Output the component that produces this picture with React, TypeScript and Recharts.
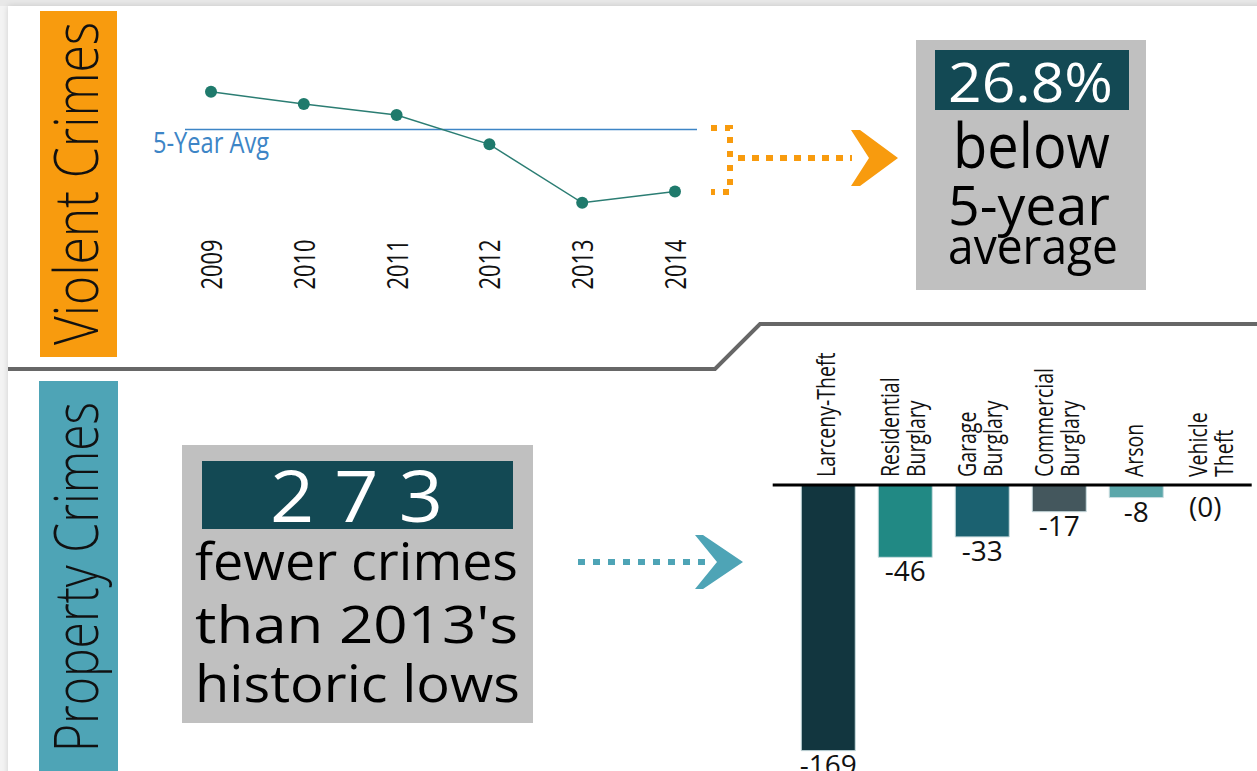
import React from 'react';
import { LineChart, Line, XAxis, YAxis, ReferenceLine, BarChart, Bar, Cell, LabelList } from 'recharts';

// ---- Violent crimes (line chart) ----
const YEARS = ['2009', '2010', '2011', '2012', '2013', '2014'];
const VIOLENT = [116.1, 110.8, 106.1, 93.5, 68.4, 73.2];
const FIVE_YEAR_AVG = 99.9;
const AVG_LABEL = '5-Year Avg';

// ---- Property crimes (bar chart) ----
const CATEGORIES = ['Larceny-Theft', 'Residential Burglary', 'Garage Burglary', 'Commercial Burglary', 'Arson', 'Vehicle Theft'];
const CHANGES = [-169, -46, -33, -17, -8, 0];
const BAR_COLORS = ['#12363f', '#218984', '#1b6170', '#44575d', '#5ba7aa', '#5ba7aa'];

// ---- Call-out texts ----
const VIOLENT_TITLE = 'Violent Crimes';
const PROPERTY_TITLE = 'Property Crimes';
const VIOLENT_STAT = '26.8%';
const VIOLENT_STAT_LINES = ['below', '5-year', 'average'];
const PROPERTY_STAT = '2 7 3';
const PROPERTY_STAT_LINES = ['fewer crimes', "than 2013's", 'historic lows'];

const FONT = "'Open Sans', 'Noto Sans', sans-serif";
const ORANGE = '#f89b0e';
const TEAL = '#4ea4b6';
const DARK = '#134954';
const GRAY = '#c0c0c0';

const lineData = YEARS.map((year, i) => ({ year, value: VIOLENT[i] }));
const barData = CATEGORIES.map((name, i) => ({ name, value: CHANGES[i] }));

const valueText = (v: number) => (v === 0 ? '(0)' : String(v));

const YearTick = (props: any) => {
  const { x, y, payload } = props;
  return (
    <text
      transform={`translate(${x + 11},${y}) rotate(-90) scale(0.73,1)`}
      fontFamily={FONT}
      fontSize={30}
      fill="#111"
      textAnchor="start"
    >
      {payload.value}
    </text>
  );
};

const AvgLabel = (props: any) => {
  const vb = props.viewBox || {};
  return (
    <text
      x={vb.x - 32}
      y={vb.y + 24}
      fontFamily={FONT}
      fontSize={29}
      fill="#3d85c6"
      textLength={116}
      lengthAdjust="spacingAndGlyphs"
    >
      {AVG_LABEL}
    </text>
  );
};

const TICK_MARGIN_TOP = 8;

const CategoryTick = (props: any) => {
  const { x, y, payload, index } = props;
  const lines = String(payload.value).split(' ');
  const n = lines.length;
  const v = CHANGES[index];
  return (
    <g>
      {lines.map((ln, i) => {
        const bx = x + (n === 1 ? 7 : i === 0 ? -6 : 20);
        return (
          <text
            key={i}
            transform={`translate(${bx},${y}) rotate(-90) scale(0.75,1)`}
            fontFamily={FONT}
            fontSize={26}
            fill="#111"
            textAnchor="start"
          >
            {ln}
          </text>
        );
      })}
      {v === 0 && (
        <text x={x - 8} y={y + TICK_MARGIN_TOP + 32} textAnchor="middle" fontFamily={FONT} fontSize={28} fill="#111">
          {valueText(v)}
        </text>
      )}
    </g>
  );
};

const ValueLabel = (props: any) => {
  const { x, y, width, height, value } = props;
  const v = Number(value);
  if (v === 0) return null;
  const bottom = Math.max(y, y + height);
  const cx = x + width / 2;
  return (
    <text x={cx} y={bottom + 24} textAnchor="middle" fontFamily={FONT} fontSize={28} fill="#111">
      {valueText(v)}
    </text>
  );
};

export default function App() {
  return (
    <div style={{ position: 'absolute', left: 0, top: 0, width: 1257, height: 771, overflow: 'hidden', background: '#f3f3f3' }}>
      <div style={{ position: 'absolute', left: 0, top: 0, width: 1257, height: 6, background: '#e8e8e8' }} />
      <div style={{ position: 'absolute', left: 8, top: 6, width: 1300, height: 800, background: '#ffffff', boxShadow: '0 0 6px rgba(0,0,0,0.15)' }} />
      <svg style={{ position: 'absolute', left: 0, top: 0 }} width={1257} height={771}>
        {/* section title boxes */}
        <rect x={40} y={11} width={77} height={346} fill={ORANGE} />
        <text transform="translate(98,345) rotate(-90)" fontFamily={FONT} fontWeight={300} fontSize={60} fill="#111" textLength={323} lengthAdjust="spacingAndGlyphs">{VIOLENT_TITLE}</text>
        <rect x={39} y={381} width={79} height={400} fill={TEAL} />
        <text transform="translate(98,752) rotate(-90)" fontFamily={FONT} fontWeight={300} fontSize={60} fill="#111" textLength={350} lengthAdjust="spacingAndGlyphs">{PROPERTY_TITLE}</text>

        {/* divider */}
        <polyline points="8,369 715,369 760,324 1257,324" fill="none" stroke="#676767" strokeWidth={4} />

        {/* orange bracket + arrow */}
        <path d="M711,128 H730 V192 H711" fill="none" stroke={ORANGE} strokeWidth={6} strokeDasharray="6 8" />
        <line x1={738} y1={158} x2={852} y2={158} stroke={ORANGE} strokeWidth={6} strokeDasharray="7 7" />
        <polygon points="851,130 860,130 898,158 860,186 851,186 869,158" fill={ORANGE} />

        {/* teal arrow */}
        <line x1={578} y1={562} x2={712} y2={562} stroke={TEAL} strokeWidth={6} strokeDasharray="7 8" />
        <polygon points="695,535 703,535 743,562 703,589 695,589 717,562" fill={TEAL} />

        {/* violent stat box */}
        <rect x={916} y={40} width={230} height={250} fill={GRAY} />
        <rect x={935} y={50} width={194} height={60} fill={DARK} />
        <text x={948} y={102} fontFamily={FONT} fontSize={55} fill="#fff" textLength={165} lengthAdjust="spacingAndGlyphs">{VIOLENT_STAT}</text>
        <text x={953} y={168} fontFamily={FONT} fontSize={62} fill="#000" textLength={157} lengthAdjust="spacingAndGlyphs">{VIOLENT_STAT_LINES[0]}</text>
        <text x={948} y={225} fontFamily={FONT} fontSize={55} fill="#000" textLength={162} lengthAdjust="spacingAndGlyphs">{VIOLENT_STAT_LINES[1]}</text>
        <text x={948} y={264} fontFamily={FONT} fontSize={50} fill="#000" textLength={170} lengthAdjust="spacingAndGlyphs">{VIOLENT_STAT_LINES[2]}</text>

        {/* property stat box */}
        <rect x={182} y={445} width={351} height={278} fill={GRAY} />
        <rect x={202} y={461} width={311} height={68} fill={DARK} />
        <text x={270} y={522} fontFamily={FONT} fontSize={72} fill="#fff" textLength={173} lengthAdjust="spacingAndGlyphs">{PROPERTY_STAT}</text>
        <text x={195} y={580} fontFamily={FONT} fontSize={51} fill="#000" textLength={323} lengthAdjust="spacingAndGlyphs">{PROPERTY_STAT_LINES[0]}</text>
        <text x={195} y={643} fontFamily={FONT} fontSize={52} fill="#000" textLength={323} lengthAdjust="spacingAndGlyphs">{PROPERTY_STAT_LINES[1]}</text>
        <text x={195} y={702} fontFamily={FONT} fontSize={52} fill="#000" textLength={325} lengthAdjust="spacingAndGlyphs">{PROPERTY_STAT_LINES[2]}</text>
      </svg>

      <div style={{ position: 'absolute', left: 150, top: 40 }}>
        <LineChart width={580} height={270} data={lineData} margin={{ top: 31, right: 33, bottom: 34.4, left: 35 }}>
          <XAxis
            dataKey="year"
            height={30}
            axisLine={false}
            tickLine={false}
            tickSize={0}
            tickMargin={44}
            padding={{ left: 26, right: 22 }}
            tick={YearTick}
            interval={0}
          />
          <YAxis hide domain={[50, 125]} />
          <ReferenceLine y={FIVE_YEAR_AVG} stroke="#3d85c6" strokeWidth={1.5} label={AvgLabel} />
          <Line
            dataKey="value"
            stroke="#2b7d73"
            strokeWidth={1.5}
            dot={{ r: 6, fill: '#1f7a6c', stroke: 'none' }}
            isAnimationActive={false}
          />
        </LineChart>
      </div>

      <div style={{ position: 'absolute', left: 760, top: 330 }}>
        <BarChart width={497} height={480} data={barData} margin={{ top: 125, right: 5.3, bottom: 10.6, left: 12.7 }} barCategoryGap="15%">
          <XAxis
            dataKey="name"
            orientation="top"
            height={30}
            axisLine={{ stroke: '#000', strokeWidth: 3 }}
            tickLine={false}
            tickSize={0}
            tickMargin={TICK_MARGIN_TOP}
            padding={{ left: 17, right: 0 }}
            tick={CategoryTick}
            interval={0}
          />
          <YAxis hide domain={[-200, 0]} />
          <Bar dataKey="value" isAnimationActive={false} stroke="#c9dcdf" strokeWidth={1}>
            {barData.map((d, i) => (
              <Cell key={d.name} fill={BAR_COLORS[i]} />
            ))}
            <LabelList dataKey="value" content={ValueLabel} />
          </Bar>
        </BarChart>
      </div>
    </div>
  );
}
